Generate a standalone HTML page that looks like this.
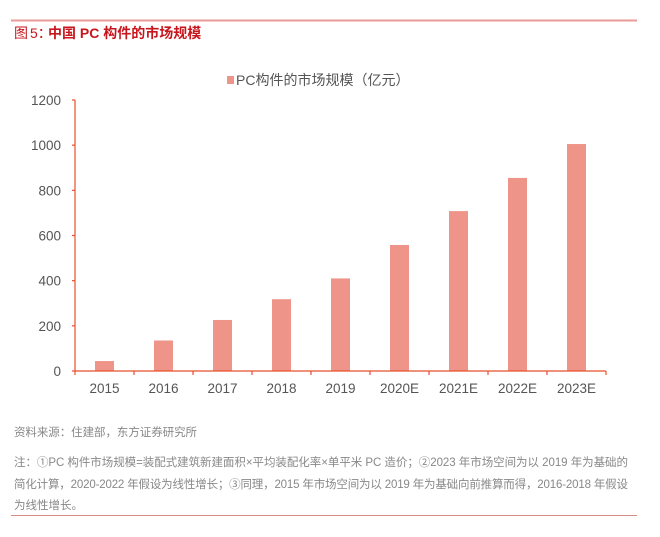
<!DOCTYPE html>
<html><head><meta charset="utf-8"><style>
body{margin:0;background:#fff;width:660px;height:537px;overflow:hidden;font-family:"Liberation Sans","Noto Sans CJK SC",sans-serif}
</style></head><body>
<svg width="660" height="537" style="position:absolute;left:0;top:0;font-family:'Liberation Sans','Noto Sans CJK SC',sans-serif">
<line x1="11" y1="20.5" x2="637" y2="20.5" stroke="#e89a96" stroke-width="2"/>
<text x="14" y="38" font-size="14" fill="#c8161d"><tspan>图</tspan><tspan x="30">5：</tspan><tspan x="48" font-weight="bold">中国 PC 构件的市场规模</tspan></text>
<rect x="227" y="76" width="7" height="8" fill="#ee9488"/>
<text x="236" y="85" font-size="14" fill="#555">PC构件的市场规模（亿元）</text>
<g id="chart"></g>
<text x="14" y="436" font-size="11.5" fill="#888" textLength="183" lengthAdjust="spacing">资料来源：住建部，东方证券研究所</text>
<text x="14" y="466" font-size="11.5" fill="#888" textLength="614" lengthAdjust="spacing">注：①PC 构件市场规模=装配式建筑新建面积×平均装配化率×单平米 PC 造价；②2023 年市场空间为以 2019 年为基础的</text>
<text x="14" y="488" font-size="11.5" fill="#888" textLength="614" lengthAdjust="spacing">简化计算，2020-2022 年假设为线性增长；③同理，2015 年市场空间为以 2019 年为基础向前推算而得，2016-2018 年假设</text>
<text x="14" y="509" font-size="11.5" fill="#888">为线性增长。</text>
<line x1="11" y1="515.5" x2="637" y2="515.5" stroke="#d88c88" stroke-width="1"/>
</svg>
<script>
const categories=["2015","2016","2017","2018","2019","2020E","2021E","2022E","2023E"];
const values=[44,135,226,318,410,558,708,855,1005];
const yTicks=[0,200,400,600,800,1000,1200];
const NS="http://www.w3.org/2000/svg";
const g=document.getElementById('chart');
const X0=75,STEP=59,Y0=371,YTOP=100,YMAX=1200,BW=19,AX="#e8502a";
const y=v=>Y0-(v/YMAX)*(Y0-YTOP);
const xc=i=>X0+STEP*(i+0.5);
function mk(t,a){const e=document.createElementNS(NS,t);for(const k in a)e.setAttribute(k,a[k]);g.appendChild(e);return e;}
categories.forEach((c,i)=>{
 const b=mk('rect',{x:xc(i)-BW/2,y:y(values[i]),width:BW,height:Y0-y(values[i]),fill:'#ee9488'});
 
 
 const t=mk('text',{x:xc(i),y:Y0+22,'font-size':13.5,fill:'#555','text-anchor':'middle'});
 t.textContent=c;
 
 
});
yTicks.forEach(v=>{
 const l=mk('line',{x1:X0-3,x2:X0,y1:y(v),y2:y(v),stroke:AX,'stroke-width':1.2});
 
 
 const t=mk('text',{x:X0-14,y:y(v)+5,'font-size':13.5,fill:'#555','text-anchor':'end'});
 t.textContent=v;
 
 
});
for(let i=0;i<=categories.length;i++){
 const l=mk('line',{x1:X0+STEP*i,x2:X0+STEP*i,y1:Y0,y2:Y0+4,stroke:AX,'stroke-width':1.2});
 
 
}
const ya=mk('line',{x1:X0,x2:X0,y1:YTOP,y2:Y0,stroke:AX,'stroke-width':1.2});


const xa=mk('line',{x1:X0,x2:X0+STEP*categories.length,y1:Y0,y2:Y0,stroke:AX,'stroke-width':1.2});


</script>
</body></html>
